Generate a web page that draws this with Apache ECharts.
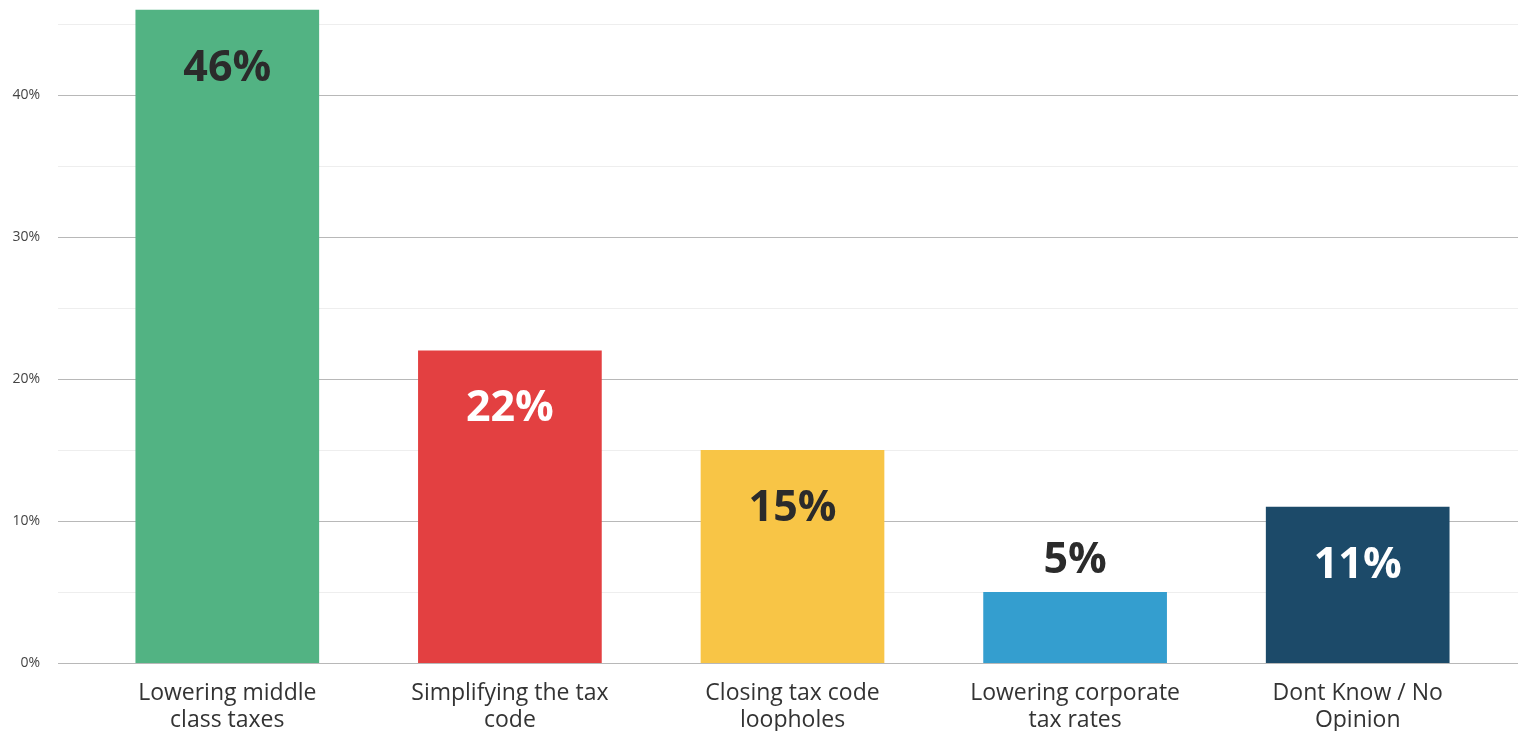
<!DOCTYPE html>
<html>
<head>
<meta charset="utf-8">
<script src="https://cdn.jsdelivr.net/npm/echarts@6/dist/echarts.min.js"></script>
<style>
html,body{margin:0;padding:0;background:#fff;}
#main{width:1518px;height:731px;}
</style>
</head>
<body>
<div id="main"></div>
<script>
const categories = ['Lowering middle\nclass taxes', 'Simplifying the tax\ncode', 'Closing tax code\nloopholes', 'Lowering corporate\ntax rates', 'Dont Know / No\nOpinion'];
const values = [46, 22, 15, 5, 11];
const barColors = ['#52b383', '#e34041', '#f8c546', '#349ecf', '#1c4a69'];
const labelColors = ['#2b2b2b', '#ffffff', '#2b2b2b', '#2b2b2b', '#ffffff'];
const yTicks = [0, 10, 20, 30, 40];

const chart = echarts.init(document.getElementById('main'));
const data = values.map((v, i) => ({
  value: v,
  itemStyle: { color: barColors[i] },
  label: v < 8
    ? { position: 'top', distance: 10, color: labelColors[i] }
    : { position: 'insideTop', distance: 37, color: labelColors[i] }
}));

chart.setOption({
  animation: false,
  grid: [
    { left: 58, right: 0, top: -47, bottom: 68, outerBoundsMode: 'none', containLabel: false },
    { left: 86, right: 19, top: -47, bottom: 68, outerBoundsMode: 'none', containLabel: false }
  ],
  xAxis: [
    { type: 'category', gridIndex: 0, data: [''], show: false },
    {
      type: 'category', gridIndex: 1, data: categories,
      axisLine: { show: false },
      axisTick: { show: false },
      axisLabel: {
        color: '#333', fontSize: 23, fontFamily: 'Open Sans', lineHeight: 27, margin: 17
      }
    }
  ],
  yAxis: [
    {
      type: 'value', gridIndex: 0, min: 0, max: 50, interval: 10,
      axisLine: { show: false },
      axisTick: { show: false },
      axisLabel: {
        color: '#444', fontSize: 14, fontFamily: 'Open Sans', margin: 18,
        formatter: v => yTicks.indexOf(v) >= 0 ? v + '%' : ''
      },
      splitLine: { show: true, lineStyle: { color: '#b8b8b8', width: 1 } },
      minorTick: { show: false, splitNumber: 2 },
      minorSplitLine: { show: true, lineStyle: { color: '#eeeeee', width: 1 } }
    },
    { type: 'value', gridIndex: 1, min: 0, max: 50, interval: 10, show: false, splitLine: { show: false } }
  ],
  series: [{
    type: 'bar',
    xAxisIndex: 1, yAxisIndex: 1,
    barWidth: '65%',
    data: data,
    label: {
      show: true,
      formatter: '{c}%',
      fontSize: 43,
      fontWeight: 'bold',
      fontFamily: 'Open Sans'
    }
  }]
});
</script>
</body>
</html>
